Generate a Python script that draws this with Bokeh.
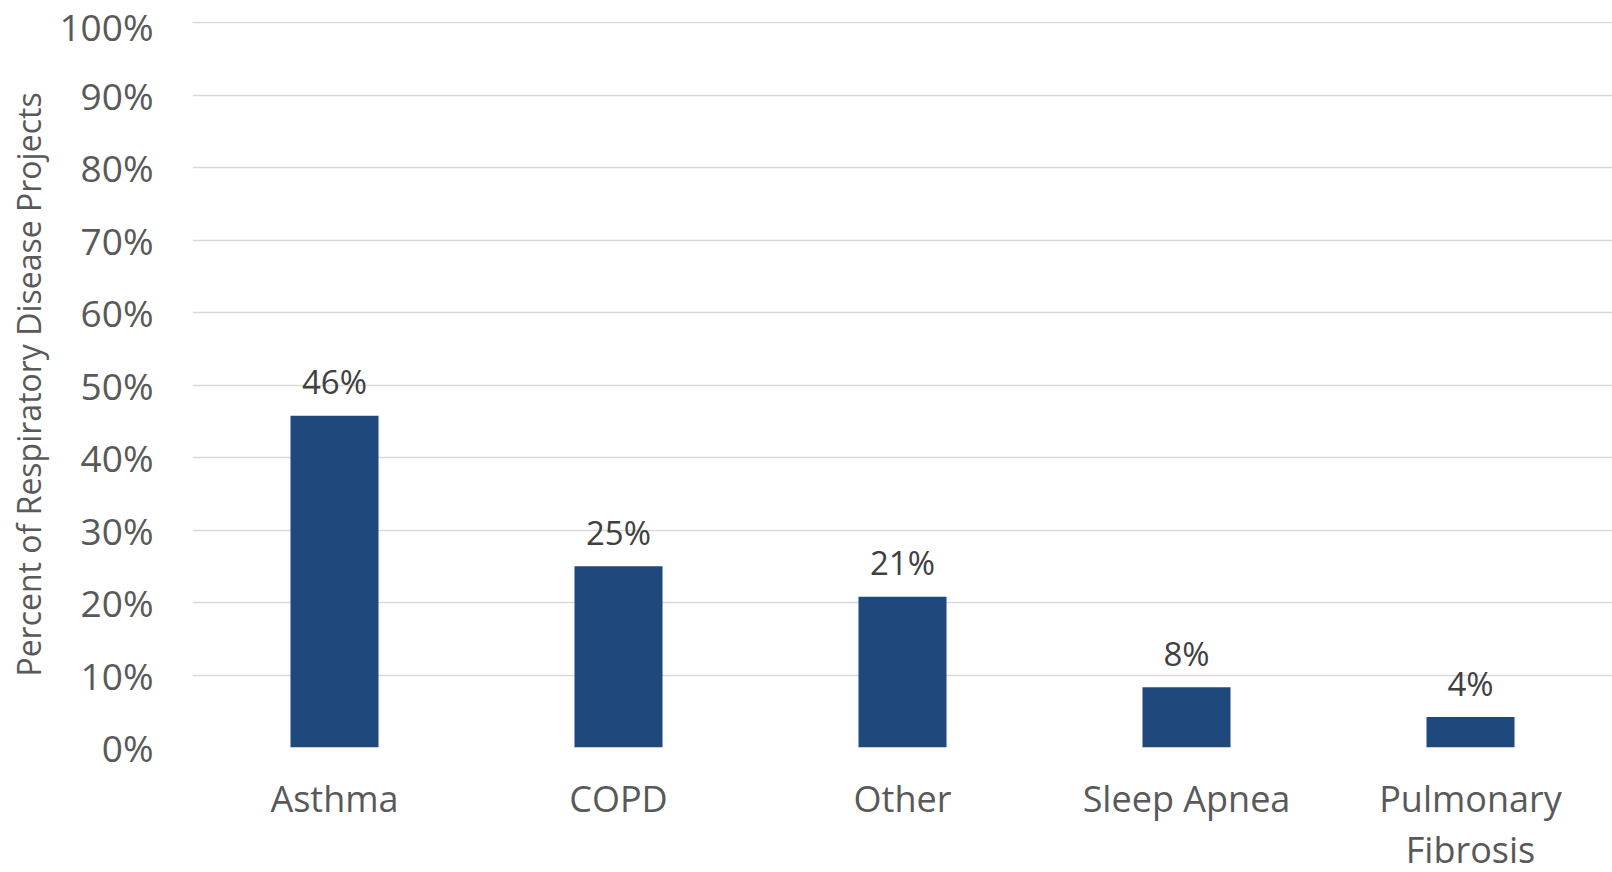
from bokeh.plotting import figure
from bokeh.models import ColumnDataSource, FixedTicker, PrintfTickFormatter, Range1d
from bokeh.core.properties import value
from bokeh.embed import file_html
from bokeh.resources import INLINE

categories = ["Asthma", "COPD", "Other", "Sleep Apnea", "Pulmonary\nFibrosis"]
values = [45.8, 25.0, 20.8, 8.3, 4.2]
y_ticks = [0, 10, 20, 30, 40, 50, 60, 70, 80, 90, 100]
y_title = "Percent of Respiratory Disease Projects"

labels = [f"{round(v)}%" for v in values]
src = ColumnDataSource(dict(cat=categories, val=values, lab=labels))

FONT = "Open Sans"

p = figure(x_range=categories, y_range=Range1d(0, 100.2),
           frame_width=1420, frame_height=726,
           output_backend="svg", toolbar_location=None,
           min_border_left=192, min_border_right=0, min_border_top=21, min_border_bottom=0)
p.outline_line_color = None
p.background_fill_color = "white"
p.border_fill_color = "white"

p.vbar(x="cat", top="val", width=0.31, source=src, color="#1F497D", line_color=None)
p.text(x="cat", y="val", text="lab", source=src, text_align="center", text_baseline="alphabetic",
       y_offset=-34, text_font=value(FONT), text_font_size="33px", text_color="#404040")

p.yaxis.ticker = FixedTicker(ticks=y_ticks)
p.yaxis.formatter = PrintfTickFormatter(format="%d%%")
p.yaxis.axis_line_color = None
p.yaxis.major_tick_line_color = None
p.yaxis.minor_tick_line_color = None
p.yaxis.major_label_text_font = FONT
p.yaxis.major_label_text_font_size = "37px"
p.yaxis.major_label_text_color = "#595959"
p.yaxis.major_label_text_line_height = 0.85
p.yaxis.major_label_standoff = 33
p.yaxis.axis_label = y_title
p.yaxis.axis_label_text_font = FONT
p.yaxis.axis_label_text_font_size = "32px"
p.yaxis.axis_label_text_font_style = "normal"
p.yaxis.axis_label_text_color = "#595959"
p.yaxis.axis_label_standoff = 6

p.xaxis.axis_line_color = None
p.xaxis.major_tick_line_color = None
p.xaxis.minor_tick_line_color = None
p.xaxis.major_label_text_font = FONT
p.xaxis.major_label_text_font_size = "36px"
p.xaxis.major_label_text_color = "#595959"
p.xaxis.major_label_standoff = 20
p.xaxis.major_label_text_line_height = 1.05

p.xgrid.grid_line_color = None
p.ygrid.grid_line_color = "#D9D9D9"
p.ygrid.grid_line_width = 1.5

open("out.html", "w").write(file_html(p, INLINE))
